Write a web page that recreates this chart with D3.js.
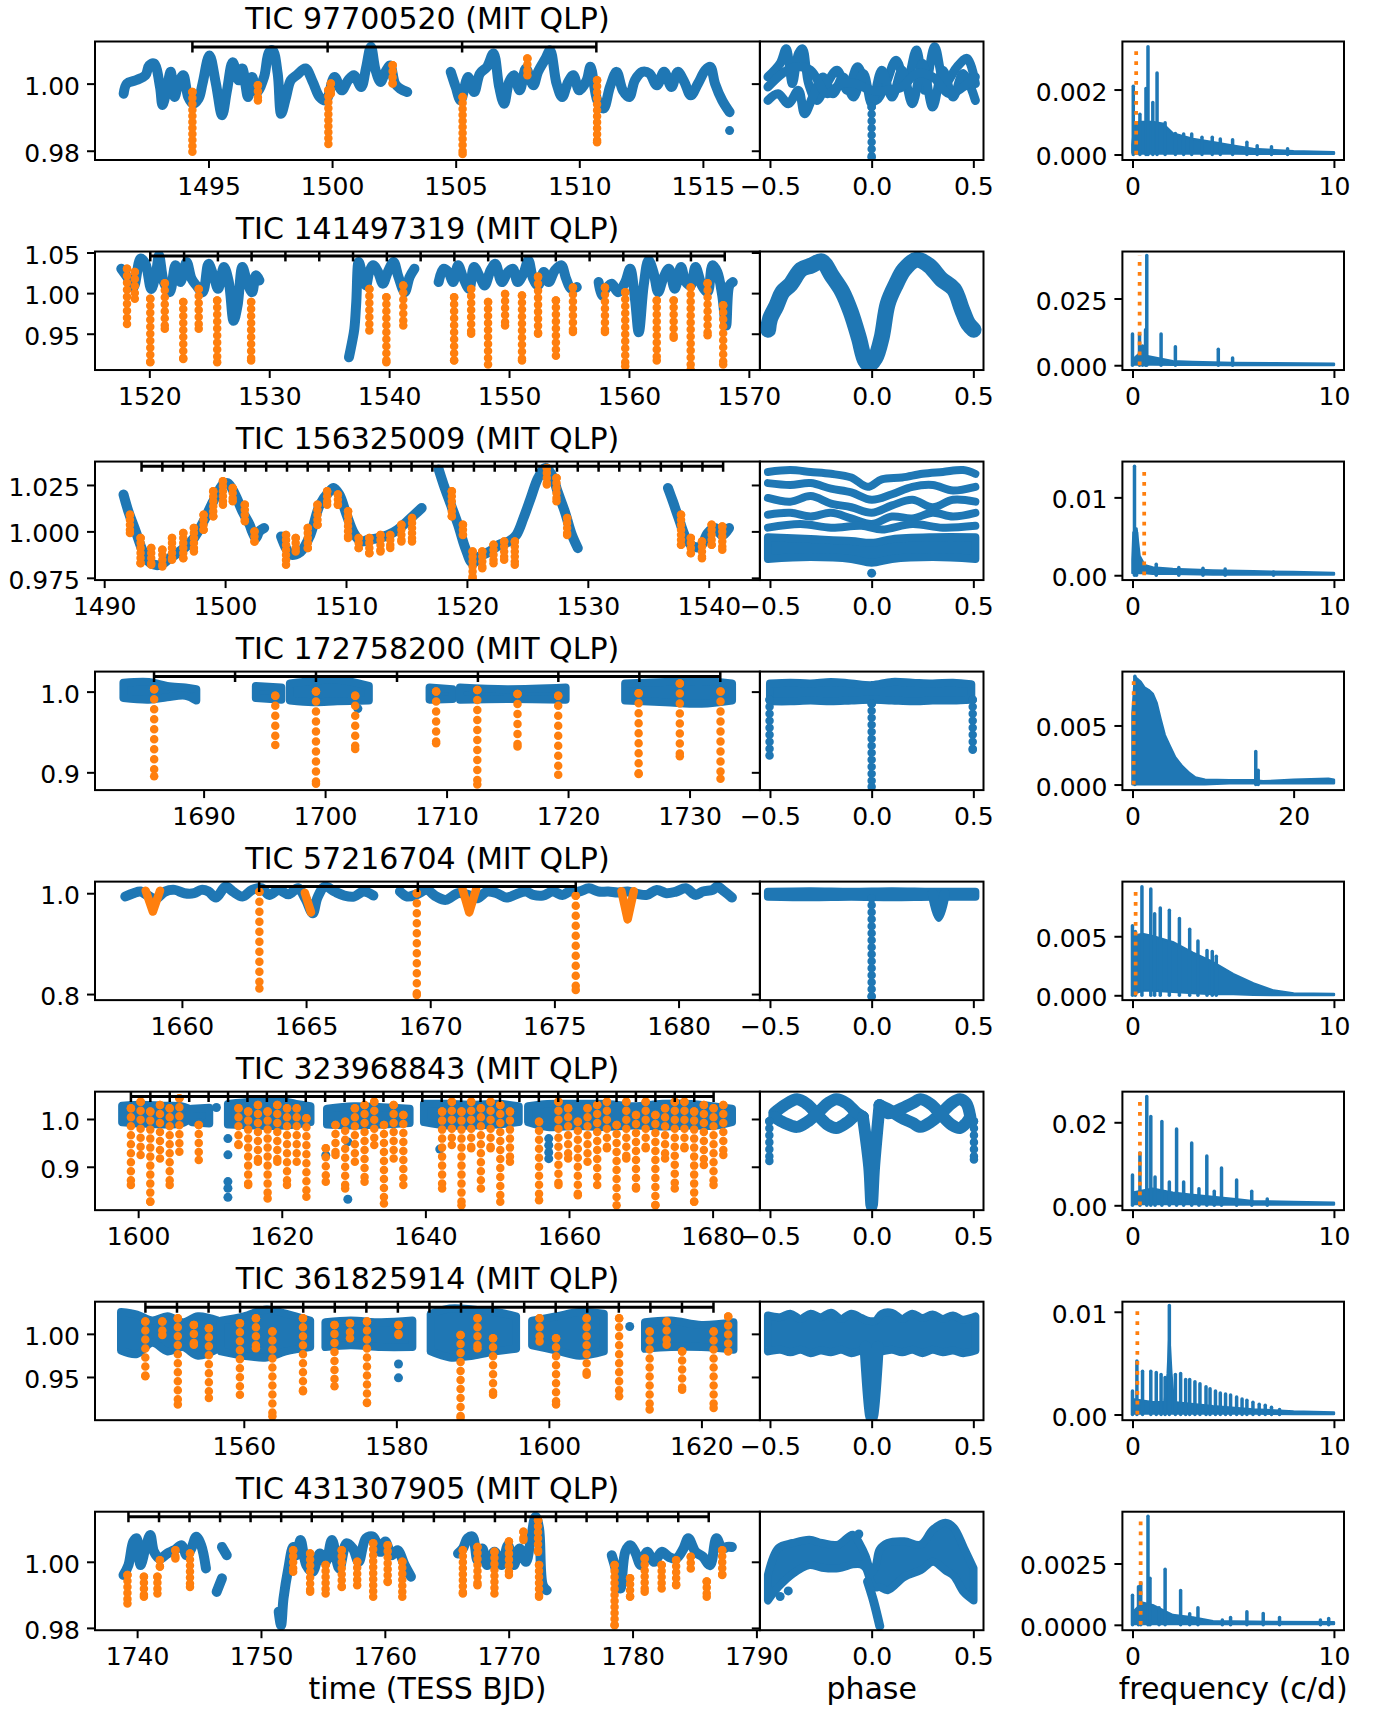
<!DOCTYPE html>
<html>
<head>
<meta charset="utf-8">
<script src="https://cdn.jsdelivr.net/npm/d3@7"></script>
<style>
  body { margin: 0; background: #fff; }
  svg text { font-family: "DejaVu Sans", sans-serif; fill: #000; }
</style>
</head>
<body>
<svg id="fig" width="1381" height="1713"></svg>
<script>
// ---------- per-target settings ----------
const titles = ["TIC 97700520 (MIT QLP)", "TIC 141497319 (MIT QLP)", "TIC 156325009 (MIT QLP)",
  "TIC 172758200 (MIT QLP)", "TIC 57216704 (MIT QLP)", "TIC 323968843 (MIT QLP)",
  "TIC 361825914 (MIT QLP)", "TIC 431307905 (MIT QLP)"];
const periods = [5.447, 2.818, 1.718, 6.66, 6.375, 2.705, 4.138, 2.466];
const timeDomains = [[1490.41, 1517.31], [1515.47, 1570.93], [1489.24, 1544.24], [1681.06, 1735.8],
  [1656.5, 1683.28], [1593.99, 1686.6], [1540.49, 1627.68], [1736.6, 1790.29]];
const fluxDomains = [[0.97724, 1.01255], [0.9053, 1.0512], [0.9738, 1.0376], [0.878, 1.0248],
  [0.788, 1.023], [0.8092, 1.0572], [0.8999, 1.0373], [0.9793, 1.01515]];
const timeTicks = [[1495, 1500, 1505, 1510, 1515], [1520, 1530, 1540, 1550, 1560, 1570],
  [1490, 1500, 1510, 1520, 1530, 1540], [1690, 1700, 1710, 1720, 1730], [1660, 1665, 1670, 1675, 1680],
  [1600, 1620, 1640, 1660, 1680], [1560, 1580, 1600, 1620], [1740, 1750, 1760, 1770, 1780, 1790]];
const fluxTicks = [[0.98, 1.00], [0.95, 1.00, 1.05], [0.975, 1.000, 1.025], [0.9, 1.0], [0.8, 1.0],
  [0.9, 1.0], [0.95, 1.00], [0.98, 1.00]];
const fluxFormats = [".2f", ".2f", ".3f", ".1f", ".1f", ".1f", ".2f", ".2f"];
const markerLevels = [1.0109, 1.0458, 1.0351, 1.0186, 1.0132, 1.0468, 1.0308, 1.0136];
const phaseDomain = [-0.55, 0.55];
const phaseTicks = [[-0.5, 0.0, 0.5], [0.0, 0.5], [-0.5, 0.0, 0.5], [-0.5, 0.0, 0.5], [-0.5, 0.0, 0.5],
  [-0.5, 0.0, 0.5], [-0.5, 0.0, 0.5], [0.0, 0.5]];
const freqDomains = [[-0.5, 10.5], [-0.5, 10.5], [-0.5, 10.5], [-1.25, 26.25], [-0.5, 10.5],
  [-0.5, 10.5], [-0.5, 10.5], [-0.5, 10.5]];
const freqTicks = [[0, 10], [0, 10], [0, 10], [0, 20], [0, 10], [0, 10], [0, 10], [0, 10]];
const powerDomains = [[-0.00017, 0.00348], [-0.0018, 0.0426], [-0.00062, 0.0146], [-0.00047, 0.00956],
  [-0.00041, 0.00963], [-0.00117, 0.02738], [-0.00055, 0.01098], [-0.00022, 0.00461]];
const powerTicks = [[0, 0.002], [0, 0.025], [0, 0.01], [0, 0.005], [0, 0.005], [0, 0.02], [0, 0.01], [0, 0.0025]];
const powerFormats = [".3f", ".3f", ".2f", ".3f", ".3f", ".2f", ".2f", ".4f"];

// ---------- eclipse ephemeris marks (times) ----------
const lc1Markers = [1494.35, 1499.82, 1505.26, 1510.69];
const lc2Markers = [1520.08, 1522.90, 1525.72, 1528.53, 1531.35, 1534.17, 1536.99, 1539.81, 1542.63,
  1545.44, 1548.26, 1551.08, 1553.90, 1556.72, 1559.53, 1562.35, 1565.17, 1567.99];
const lc3Markers = [1493.09, 1494.81, 1496.53, 1498.24, 1499.96, 1501.68, 1503.40, 1505.12, 1506.83,
  1508.55, 1510.27, 1511.99, 1513.71, 1515.42, 1517.14, 1518.86, 1520.58, 1522.30, 1524.01, 1525.73,
  1527.45, 1529.17, 1530.89, 1532.60, 1534.32, 1536.04, 1537.76, 1539.48, 1541.19];
const lc4Markers = [1685.92, 1692.59, 1699.25, 1705.92, 1712.58, 1719.2, 1725.87, 1732.53];
const lc5Markers = [1663.11, 1669.5, 1675.86];
const lc6Markers = [1598.99, 1601.70, 1604.40, 1607.11, 1609.81, 1612.52, 1615.22, 1617.93, 1620.63,
  1623.34, 1626.04, 1628.75, 1631.45, 1634.16, 1636.86, 1639.57, 1642.27, 1644.98, 1647.68, 1650.39,
  1653.09, 1655.80, 1658.50, 1661.21, 1663.91, 1666.62, 1669.32, 1672.03, 1674.73, 1677.44, 1680.14];
const lc7Markers = [1547.10, 1551.24, 1555.38, 1559.51, 1563.65, 1567.79, 1571.93, 1576.07, 1580.20,
  1584.34, 1588.48, 1592.62, 1596.76, 1600.89, 1605.03, 1609.17, 1613.31, 1617.45, 1621.58];
const lc8Markers = [1739.30, 1741.77, 1744.23, 1746.70, 1749.16, 1751.63, 1754.10, 1756.56, 1759.03,
  1761.49, 1763.96, 1766.43, 1768.89, 1771.36, 1773.82, 1776.29, 1778.76, 1781.22, 1783.69, 1786.15];

// ---------- light curves: traced segments [time, flux] ----------
const lc1Trace = [
  [[1491.57,0.997],[1491.7,1.0],[1492.06,1.001],[1492.45,1.0025],[1492.6,1.0054],[1492.8,1.006],[1493.04,0.999],
   [1493.14,0.9936],[1493.33,0.999],[1493.47,1.0035],[1493.63,0.996],[1493.78,1.0],[1493.98,1.0025],[1494.18,0.996],
   [1494.37,0.994],[1494.6,0.9955],[1494.76,1.0],[1495.04,1.0084],[1495.3,1.0],[1495.55,0.9906],[1495.75,0.998],
   [1495.98,1.0064],[1496.22,1.001],[1496.37,1.0045],[1496.6,0.996],[1496.76,1.002],[1496.96,0.9975],[1497.25,1.002],
   [1497.45,1.0094],[1497.6,1.0099],[1497.8,1.003],[1497.94,0.991],[1498.14,0.996],[1498.33,1.001],[1498.57,1.0025],
   [1498.92,1.0045],[1499.22,1.0005],[1499.5,0.996],[1499.75,0.995],[1500.1,1.002],[1500.39,0.998],[1500.65,1.001],
   [1500.88,1.0025],[1501.18,0.999],[1501.37,1.0045],[1501.57,1.011],[1501.76,1.004],[1501.96,1.0005],[1502.16,1.0035],
   [1502.35,1.0054],[1502.55,1.0],[1502.75,0.9985],[1503.04,0.9975]],
  [[1504.8,1.0035],[1505.0,0.999],[1505.2,0.995],[1505.5,1.002],[1505.75,0.9975],[1505.98,1.003],[1506.27,1.005],
   [1506.53,1.009],[1506.76,0.999],[1506.96,0.994],[1507.16,1.0005],[1507.35,1.0025],[1507.59,0.998],[1507.84,1.0045],
   [1508.14,0.9995],[1508.33,1.0035],[1508.63,1.0074],[1508.82,1.0099],[1509.08,1.0],[1509.31,0.996],[1509.55,1.0005],
   [1509.76,1.0025],[1510.0,0.998],[1510.3,1.001],[1510.45,1.005],[1510.73,0.995],[1510.98,0.9926],[1511.24,0.999],
   [1511.51,1.0035],[1511.76,0.998],[1512.02,0.996],[1512.25,1.001],[1512.55,1.0035],[1512.84,1.003],[1513.14,0.9995],
   [1513.43,1.0035],[1513.73,0.999],[1513.98,1.0035],[1514.25,1.0005],[1514.51,0.9965],[1514.8,1.0],[1515.1,1.004],
   [1515.3,1.005],[1515.49,1.0],[1515.78,0.995],[1516.08,0.9915]]
];
const lc1Dots = [[1516.08, 0.986]];
const lc1Chains = [[1494.35,0.9975,0.9797],[1497.0,0.9995,0.995],[1499.85,0.998,0.982],[1499.95,1.0,0.997],
  [1502.45,1.0055,1.0],[1505.28,0.996,0.979],[1507.9,1.0075,1.0025],[1510.72,1.001,0.9825]];

const lc2Trace = [
  [[1517.66,1.030],[1518.14,1.020],[1518.67,1.007],[1519.27,1.0425],[1519.68,1.036],[1520.16,1.005],[1520.57,1.026],
   [1520.81,1.0467],[1521.21,1.0136],[1521.70,1.0012],[1522.18,1.0343],[1522.59,1.0136],[1523.11,1.0384],[1523.52,1.0178],
   [1523.92,1.0095],[1524.45,1.0012],[1524.93,1.036],[1525.34,1.0219],[1525.74,1.0054],[1526.22,1.0322],[1526.63,1.0136],
   [1527.03,0.966],[1527.36,0.9847],[1527.76,1.0322],[1528.16,1.0136],[1528.57,1.0012],[1528.89,1.0219],[1529.18,1.0157]],
  [[1536.65,0.921],[1536.90,0.939],[1537.10,0.956],[1537.26,0.989],[1537.46,1.0384],[1537.78,1.0219],[1538.07,1.0095],
   [1538.35,1.026],[1538.67,1.0343],[1539.08,1.026],[1539.48,1.0116],[1539.89,1.026],[1540.37,1.0384],[1540.78,1.0198],
   [1541.30,1.0012],[1541.71,1.0198],[1542.11,1.030]],
  [[1544.13,1.0136],[1544.53,1.030],[1544.94,1.026],[1545.34,1.0136],[1545.75,1.0343],[1546.15,1.0198],[1546.68,1.0054],
   [1547.08,1.0322],[1547.57,1.0198],[1547.97,1.0095],[1548.46,1.0281],[1548.86,1.036],[1549.39,1.0136],[1549.91,1.026],
   [1550.32,1.030],[1550.72,1.0136],[1551.20,1.024],[1551.61,1.0405],[1552.01,1.0178],[1552.42,1.0095],[1552.90,1.026],
   [1553.31,1.0136],[1553.83,1.0281],[1554.36,1.0343],[1554.76,1.0178],[1555.17,1.0054],[1555.65,1.0074]],
  [[1557.47,1.0136],[1557.75,0.9971],[1558.08,1.0054],[1558.56,1.0116],[1559.09,1.0012],[1559.69,1.0136],[1560.10,1.030],
   [1560.50,0.993],[1560.82,0.9517],[1561.23,1.0095],[1561.63,1.0405],[1562.04,1.026],[1562.44,1.0012],[1562.85,1.0178],
   [1563.33,1.030],[1563.82,1.0054],[1564.34,1.0322],[1564.74,1.0136],[1565.15,1.0095],[1565.55,1.0322],[1566.08,1.0095],
   [1566.56,1.0012],[1566.97,1.0343],[1567.37,1.026],[1567.78,0.9971],[1568.10,0.960],[1568.38,1.0095],[1568.66,1.0136]]
];
const lc2Chains = [[1518.14,1.030,0.962],[1518.79,1.026,0.993],[1520.08,0.993,0.915],[1521.29,1.012,0.956],
  [1522.83,0.989,0.919],[1524.12,1.005,0.956],[1525.66,0.991,0.915],[1528.49,0.989,0.917],[1538.35,1.005,0.954],
  [1539.77,0.995,0.915],[1541.18,1.0095,0.960],[1545.42,0.995,0.917],[1546.84,1.005,0.950],[1548.25,0.989,0.912],
  [1549.67,0.999,0.960],[1551.08,0.997,0.917],[1552.42,1.020,0.950],[1553.91,0.991,0.923],[1555.33,1.007,0.952],
  [1558.0,1.007,0.952],[1559.69,1.001,0.910],[1562.32,0.991,0.917],[1563.73,0.991,0.945],[1565.15,1.007,0.906],
  [1566.56,1.012,0.948],[1567.86,0.985,0.912]];

const lc3Trace = [
  [[1491.6,1.0198],[1492.0,1.0108],[1492.61,1.0],[1493.21,0.9892],[1493.81,0.983],[1494.61,0.982],[1495.41,0.9856],
   [1496.42,0.990],[1497.42,0.9964],[1498.22,1.0054],[1499.02,1.0162],[1499.82,1.0252],[1500.22,1.026],[1500.83,1.0198],
   [1501.43,1.0108],[1502.03,1.0036],[1502.23,1.0],[1502.55,0.9964],[1502.83,1.0],[1503.23,1.0018]],
  [[1504.63,0.9973],[1505.04,0.991],[1505.44,0.9874],[1506.24,0.989],[1507.04,0.998],[1507.84,1.0144],[1508.64,1.0216],
   [1508.97,1.0234],[1509.45,1.0198],[1510.05,1.009],[1510.65,0.9991],[1511.25,0.9946],[1511.85,0.9955],[1512.65,0.9964],
   [1513.46,0.998],[1514.26,1.0009],[1515.06,1.0054],[1515.66,1.009],[1516.26,1.0126]],
  [[1517.67,1.0333],[1518.07,1.0252],[1518.67,1.0144],[1519.27,1.0036],[1519.87,0.991],[1520.47,0.9829],[1521.07,0.9865],
   [1521.88,0.9892],[1522.68,0.9928],[1523.48,0.9946],[1524.08,0.998],[1524.68,1.0072],[1525.28,1.018],[1525.89,1.0288],
   [1526.49,1.0342],[1527.01,1.0306],[1527.49,1.0216],[1528.09,1.0108],[1528.69,0.998],[1529.17,0.991]],
  [[1536.63,1.0234],[1537.03,1.0162],[1537.51,1.0072],[1538.12,0.9964],[1538.72,0.9919],[1539.32,0.9919],[1539.92,0.9991],
   [1540.52,1.0018],[1541.12,0.998],[1541.68,1.0018]]
];
const lc3Chains = [[1492.13,1.009,0.9991],[1493.01,0.9964,0.9829],[1493.89,0.991,0.982],[1494.81,0.9901,0.9811],
  [1495.61,0.9964,0.9847],[1496.54,0.9991,0.9856],[1497.42,1.0018,0.9892],[1498.22,1.009,1.0009],[1499.02,1.0216,1.0081],
  [1499.82,1.027,1.0144],[1500.63,1.0234,1.0162],[1501.63,1.0144,1.0054],[1502.43,1.0,0.9946],[1505.04,0.998,0.982],
  [1505.84,0.9964,0.9892],[1506.84,1.0018,0.991],[1507.64,1.0144,1.0036],[1508.44,1.0216,1.0144],[1509.33,1.0198,1.0144],
  [1510.17,1.0108,0.9964],[1511.05,0.9964,0.991],[1511.93,0.9964,0.9883],[1512.85,0.998,0.9892],[1513.66,0.998,0.991],
  [1514.58,1.0036,0.9946],[1515.46,1.0072,0.9946],[1518.75,1.0216,1.0081],[1519.67,1.0036,0.998],[1520.47,0.9892,0.9748],
  [1521.27,0.9892,0.9802],[1522.2,0.9928,0.9829],[1523.08,0.9946,0.9847],[1523.96,0.9946,0.982],[1526.61,1.0342,1.0252],
  [1527.41,1.0288,1.0162],[1528.29,1.0072,0.998],[1537.71,1.009,0.9928],[1538.52,0.9964,0.9883],[1539.44,0.9946,0.9856],
  [1540.24,1.0036,0.9928],[1541.12,1.0027,0.9901]];

// dense stretches: [time, lower flux, upper flux]
const lc4Bands = [
  [[1683.4,0.987,1.016],[1685.5,0.985,1.017],[1687,0.988,1.012],[1688.5,0.99,1.01],[1689.4,0.984,1.008]],
  [[1694.3,0.987,1.012],[1696.4,0.985,1.01]],
  [[1697.1,0.984,1.015],[1699,0.982,1.018],[1701,0.983,1.02],[1703.6,0.984,1.012]],
  [[1708.6,0.985,1.01],[1710.5,0.986,1.008]],
  [[1711.1,0.985,1.01],[1715,0.986,1.008],[1719.8,0.985,1.01]],
  [[1724.7,0.984,1.015],[1728,0.982,1.017],[1731,0.98,1.018],[1733.5,0.984,1.015]]
];
const lc4Dots = [[1702.7, 0.979]];
const lc4Chains = [[1685.93,1.003,0.895],[1695.9,0.995,0.934],[1699.25,1.0,0.886],[1702.48,0.995,0.929],
  [1709.14,1.0,0.936],[1712.53,1.002,0.885],[1715.84,0.997,0.932],[1719.19,0.995,0.897],[1725.81,0.998,0.898],
  [1729.2,1.01,0.92],[1732.55,1.0,0.892]];

const lc5Trace = [
  [[1657.72,0.9934],[1658.05,1.0],[1658.34,1.0033],[1658.63,0.9954],[1658.93,0.9887],[1659.32,1.0033],[1659.71,1.0066],
   [1660.10,1.0],[1660.49,1.0],[1660.78,1.0066],[1661.07,1.0033],[1661.37,0.9914],[1661.76,1.0132],[1662.05,1.0033],
   [1662.44,0.9934],[1662.83,1.0066],[1663.22,1.0099],[1663.51,0.9967],[1663.90,1.0066],[1664.29,0.998],[1664.68,1.0099],
   [1664.98,0.9887],[1665.27,0.9603],[1665.46,0.9914],[1665.76,1.0132],[1666.15,1.0033],[1666.54,0.9954],[1666.93,0.9934],
   [1667.32,1.0033],[1667.71,0.9954]],
  [[1668.78,1.0033],[1669.07,0.9934],[1669.46,0.998],[1669.85,1.0066],[1670.24,0.9934],[1670.63,0.9868],[1671.12,1.0],
   [1671.51,0.9967],[1671.9,0.9901],[1672.29,1.0033],[1672.68,1.0],[1673.07,0.9914],[1673.46,0.998],[1673.85,1.0033],
   [1674.15,0.9967],[1674.54,0.9954],[1674.93,1.0033],[1675.32,0.9967],[1675.61,1.0033],[1676.0,1.0033],[1676.39,1.0099],
   [1676.78,1.0033],[1677.17,1.0033],[1677.56,1.0013],[1677.95,1.0033],[1678.34,0.9987],[1678.73,0.9967],[1679.12,1.0066],
   [1679.51,1.0],[1679.9,1.0033],[1680.29,1.0099],[1680.68,0.9967],[1680.98,1.0033],[1681.37,1.0066],[1681.56,1.0132],
   [1681.85,1.0033],[1682.15,0.9914]]
];
const lc5Chains = [[1663.12,1.003,0.811],[1669.46,1.0,0.798],[1675.86,0.995,0.808]];
const lc5Streaks = [
  [[1658.54,1.005],[1658.83,0.9636],[1659.12,1.005]],
  [[1664.95,1.001],[1665.2,0.962]],
  [[1671.3,1.008],[1671.57,0.962],[1671.85,1.008]],
  [[1677.7,1.004],[1677.95,0.948],[1678.2,1.004]]
];

const lc6Bands = [
  [[1597.77,0.985,1.036],[1600.5,0.982,1.038],[1603.5,0.98,1.036],[1606.0,0.982,1.035],[1607.1,0.99,1.03]],
  [[1607.5,0.985,1.03],[1609.9,0.982,1.032]],
  [[1612.5,0.98,1.04],[1616,0.978,1.045],[1619,0.977,1.048],[1622,0.98,1.04],[1624.0,0.985,1.035]],
  [[1626.3,0.98,1.03],[1630,0.978,1.035],[1634,0.98,1.033],[1637.8,0.983,1.03]],
  [[1639.8,0.985,1.04],[1643,0.978,1.04],[1647,0.978,1.038],[1650,0.98,1.04],[1653.0,0.985,1.035]],
  [[1654.3,0.985,1.035],[1657,0.975,1.04],[1661,0.977,1.04],[1665,0.975,1.04],[1669,0.978,1.035],[1673,0.976,1.04],
   [1677,0.978,1.04],[1680,0.977,1.035],[1682.7,0.985,1.03]]
];
const lc6Dots = [[1610.9,1.024],[1612.5,0.959],[1612.5,0.925],[1612.5,0.869],[1612.5,0.855],[1612.5,0.836],
  [1626.13,0.924],[1629.2,0.952],[1629.2,0.832],[1642.0,0.937],[1657.18,0.959],[1657.18,0.945],[1657.18,0.93],
  [1657.18,0.917]];
const lc6Chains = [[1598.99,1.0224,0.8616],[1600.34,1.0363,0.9245],[1601.69,1.0154,0.8266],[1603.04,1.0294,0.9175],
  [1604.39,1.0224,0.8616],[1605.74,1.0433,0.9315],[1608.44,0.9874,0.914],[1613.97,1.0224,0.9455],[1615.32,1.0154,0.8616],
  [1616.68,1.0294,0.9105],[1618.03,1.0154,0.8336],[1619.38,1.0294,0.9105],[1620.73,1.0224,0.8616],[1622.08,1.0224,0.9105],
  [1623.43,1.0014,0.8371],[1626.13,0.9385,0.8686],[1627.48,0.9874,0.9245],[1628.83,0.9944,0.8546],[1630.18,1.0224,0.9105],
  [1631.53,1.0294,0.8686],[1632.88,1.0363,0.9455],[1634.23,0.9874,0.8231],[1635.58,1.0294,0.9175],[1636.93,1.0084,0.8616],
  [1642.33,1.0154,0.8546],[1643.68,1.0363,0.9455],[1645.03,1.0154,0.8197],[1646.38,1.0363,0.9385],[1647.73,1.0224,0.8546],
  [1649.08,1.0363,0.9385],[1650.43,1.0294,0.8266],[1651.78,1.0154,0.9105],[1655.83,0.9944,0.8301],[1658.53,1.0363,0.8616],
  [1659.88,1.0224,0.9175],[1661.23,0.9944,0.8406],[1662.58,1.0224,0.9105],[1663.93,1.0294,0.8616],[1665.28,1.0363,0.9385],
  [1666.63,0.9874,0.8197],[1667.98,1.0363,0.9175],[1669.33,1.0084,0.8546],[1670.68,1.0363,0.9385],[1672.03,1.0084,0.8197],
  [1673.38,1.0224,0.9175],[1674.73,1.0363,0.8546],[1676.08,1.0363,0.9385],[1677.43,1.0154,0.8266],[1678.78,1.0294,0.9035],
  [1680.13,1.0224,0.8616],[1681.49,1.0294,0.9245]];

const lc7Bands = [
  [[1543.9,0.976,1.03],[1546,0.972,1.027],[1548,0.985,1.02],[1550,0.975,1.025],[1552,0.98,1.018],[1554,0.97,1.025],
   [1556.6,0.978,1.02]],
  [[1557.0,0.975,1.02],[1560,0.97,1.025],[1563,0.968,1.033],[1565.5,0.975,1.028],[1568.7,0.98,1.02]],
  [[1570.7,0.98,1.018],[1574,0.982,1.02],[1578,0.98,1.018],[1582.1,0.98,1.02]],
  [[1584.5,0.975,1.028],[1587,0.968,1.034],[1590,0.97,1.033],[1593,0.975,1.03],[1595.7,0.978,1.025]],
  [[1597.8,0.982,1.02],[1601,0.976,1.025],[1604,0.97,1.03],[1607.2,0.975,1.028]],
  [[1612.6,0.978,1.018],[1616,0.98,1.02],[1620,0.98,1.015],[1624.2,0.977,1.018]]
];
const lc7Dots = [[1610.6,1.0085],[1580.28,0.965],[1580.28,0.949]];
const lc7Chains = [[1547.09,1.0142,0.9507],[1549.32,1.0142,0.9988],[1551.35,1.0181,0.918],[1553.45,1.0104,0.9873],
  [1555.42,1.0065,0.9257],[1559.49,1.0123,0.9295],[1561.59,1.0181,0.9834],[1563.75,1.0027,0.9045],[1567.76,1.0181,0.9334],
  [1571.89,1.0104,0.9392],[1573.92,1.0123,0.995],[1576.15,1.0142,0.9199],[1580.28,1.0104,0.9988],[1588.42,0.9988,0.9026],
  [1590.64,1.0181,0.9834],[1592.68,0.995,0.9295],[1598.78,1.0181,0.9911],[1600.94,0.995,0.918],[1604.95,1.0181,0.9526],
  [1609.21,1.0181,0.9276],[1613.21,1.0027,0.9122],[1615.44,1.0142,0.9873],[1617.47,0.9796,0.9353],[1621.6,1.0027,0.9141],
  [1623.51,1.02,0.9796]];

const lc8Trace = [
  [[1738.9,0.996],[1739.3,0.999],[1739.69,1.0061],[1739.96,1.0071],[1740.27,0.999],[1740.67,1.004],[1741.06,1.0081],
   [1741.37,1.003],[1741.84,1.001],[1742.43,1.0025],[1743.01,1.0035],[1743.6,1.005],[1743.99,1.002],[1744.38,1.004],
   [1744.77,1.0076],[1745.17,1.005],[1745.56,0.998]],
  [[1746.42,0.9909],[1746.85,0.995]],
  [[1746.85,1.0045],[1747.24,1.002]],
  [[1751.43,0.9849],[1751.62,0.9808],[1751.82,0.9889],[1752.21,0.998],[1752.6,1.0045],[1752.88,1.002],[1753.19,1.0066],
   [1753.66,0.999],[1754.17,0.997],[1754.76,1.0025],[1755.23,1.0],[1755.73,1.0066],[1756.32,0.998],[1756.91,1.0056],
   [1757.42,1.004],[1757.89,1.0],[1758.47,1.0071],[1759.06,1.0076],[1759.65,1.003],[1760.04,1.0061],[1760.55,1.002],
   [1761.02,1.0035],[1761.6,0.999],[1762.11,0.9955]],
  [[1765.91,1.0025],[1766.3,1.004],[1766.69,1.0071],[1767.08,1.0076],[1767.48,1.0005],[1767.87,1.004],[1768.26,0.999],
   [1768.85,1.003],[1769.43,0.999],[1769.94,1.005],[1770.41,0.999],[1770.88,1.004],[1771.39,1.0],[1771.78,1.0066],
   [1772.17,1.0136],[1772.45,1.0101],[1772.76,0.9929],[1773.07,0.9914]],
  [[1778.32,1.002],[1778.63,0.998],[1779.02,0.9919],[1779.41,1.003],[1779.8,1.005],[1780.2,1.003],[1780.67,0.999],
   [1781.17,1.003],[1781.76,1.0],[1782.35,1.003],[1782.94,1.0015],[1783.52,1.001],[1784.11,1.004],[1784.5,1.0071],
   [1785.09,1.003],[1785.68,1.0015],[1786.26,0.999],[1786.77,1.0071],[1787.24,1.004],[1787.63,1.0045],[1788.02,1.0045]]
];
const lc8Chains = [[1739.22,0.996,0.9874],[1740.55,0.9955,0.9894],[1741.64,0.9955,0.9904],[1741.84,1.0005,0.9985],
  [1743.09,1.0035,1.001],[1744.27,1.0025,0.9924],[1752.6,1.0035,0.997],[1753.97,1.0025,0.9909],[1755.22,0.999,0.9904],
  [1756.52,1.0035,0.9924],[1757.77,1.0,0.9929],[1759.06,1.0056,0.9894],[1760.23,1.005,0.9939],[1761.41,1.0,0.9894],
  [1766.3,1.0035,0.9904],[1767.48,1.0045,0.9929],[1768.85,1.003,0.9904],[1770.02,1.0061,0.996],[1771.19,1.0091,1.0066],
  [1772.37,1.0126,1.003],[1772.45,0.999,0.9894],[1778.55,0.999,0.9808],[1779.8,0.995,0.9894],[1780.98,1.001,0.9909],
  [1782.35,0.999,0.9919],[1783.52,1.0005,0.9929],[1784.7,1.0015,0.998],[1785.99,0.994,0.9894],[1787.24,1.0035,0.996]];

// ---------- phase-folded curves ----------
const ph1Strands = [
  [[-0.51,1.002],[-0.45,1.006],[-0.42,1.0104],[-0.39,1.0],[-0.36,1.009],[-0.34,1.0104],[-0.31,1.0],[-0.27,0.995],
   [-0.22,1.0],[-0.17,1.004],[-0.12,0.998],[-0.07,1.005],[-0.03,1.0],[0.02,0.995],[0.07,1.0],[0.12,1.007],[0.17,1.0],
   [0.22,1.01],[0.26,0.998],[0.31,1.011],[0.36,1.0],[0.42,1.005],[0.47,1.0075],[0.51,1.0]],
  [[-0.51,0.995],[-0.46,0.997],[-0.41,0.994],[-0.36,0.998],[-0.33,0.991],[-0.29,0.996],[-0.24,1.002],[-0.19,0.997],
   [-0.14,1.002],[-0.09,0.996],[-0.04,1.003],[0.0,0.994],[0.05,1.004],[0.1,0.996],[0.15,1.004],[0.2,0.994],[0.25,1.006],
   [0.3,0.993],[0.35,1.004],[0.4,0.996],[0.45,1.003],[0.51,0.995]],
  [[-0.51,0.999],[-0.44,1.003],[-0.38,1.005],[-0.3,1.004],[-0.22,0.997],[-0.15,1.0],[-0.08,1.0],[0.0,0.998],[0.08,0.998],
   [0.15,0.999],[0.22,1.003],[0.3,1.002],[0.38,0.997],[0.45,0.999],[0.51,1.002]]
];
const ph1Chains = [[0.0, 0.993, 0.978]];

const ph2Strands = [
  [[-0.509,0.955],[-0.5,0.968],[-0.469,0.984],[-0.438,1.0015],[-0.398,1.011],[-0.347,1.029],[-0.296,1.034],[-0.245,1.039],
   [-0.195,1.021],[-0.144,1.0015],[-0.103,0.977],[-0.063,0.945],[-0.032,0.917],[-0.012,0.912],[0.018,0.92],[0.049,0.945],
   [0.079,0.987],[0.12,1.011],[0.16,1.029],[0.221,1.041],[0.282,1.034],[0.343,1.017],[0.404,1.005],[0.444,0.98],
   [0.475,0.962],[0.501,0.955]]
];

const ph3Bands = [[[-0.51,0.983,0.999],[-0.3,0.984,0.998],[-0.1,0.983,0.997],[0.0,0.981,0.996],[0.1,0.983,0.998],
  [0.3,0.984,0.999],[0.51,0.983,0.999]]];
const ph3Strands = [
  [[-0.51,1.032],[-0.4,1.033],[-0.3,1.032],[-0.2,1.031],[-0.1,1.029],[-0.02,1.024],[0.05,1.028],[0.15,1.029],[0.25,1.031],
   [0.35,1.032],[0.45,1.033],[0.51,1.031]],
  [[-0.51,1.026],[-0.4,1.025],[-0.3,1.026],[-0.2,1.023],[-0.1,1.021],[0.0,1.017],[0.1,1.02],[0.2,1.024],[0.3,1.025],
   [0.4,1.022],[0.51,1.024]],
  [[-0.51,1.018],[-0.4,1.016],[-0.3,1.019],[-0.2,1.015],[-0.1,1.013],[0.0,1.01],[0.1,1.014],[0.2,1.017],[0.3,1.013],
   [0.4,1.017],[0.51,1.016]],
  [[-0.51,1.009],[-0.4,1.01],[-0.3,1.008],[-0.2,1.01],[-0.1,1.007],[0.0,1.004],[0.1,1.008],[0.2,1.007],[0.3,1.01],
   [0.4,1.008],[0.51,1.01]],
  [[-0.51,1.002],[-0.35,1.004],[-0.2,1.002],[-0.05,1.003],[0.05,1.001],[0.2,1.004],[0.35,1.002],[0.51,1.003]]
];
const ph3Dots = [[0.0, 0.9775]];

const ph4Bands = [[[-0.5,0.983,1.015],[-0.4,0.983,1.016],[-0.3,0.984,1.015],[-0.2,0.983,1.017],[-0.1,0.984,1.015],
  [0.0,0.985,1.013],[0.1,0.984,1.017],[0.2,0.983,1.016],[0.3,0.984,1.015],[0.4,0.984,1.016],[0.49,0.985,1.014]]];
const ph4Chains = [[-0.502,0.99,0.921],[0.497,0.99,0.928],[0.0,0.985,0.882]];

const ph5Bands = [[[-0.51,0.985,1.011],[-0.3,0.984,1.012],[-0.1,0.985,1.011],[0.1,0.984,1.012],[0.3,0.985,1.011],
  [0.51,0.985,1.011]]];
const ph5Chains = [[0.0, 0.99, 0.795]];
const ph5Strands = [[[0.3,1.0],[0.33,0.953],[0.36,1.0]]];

const ph6Strands = [
  [[-0.479,1.0124],[-0.428,1.029],[-0.367,1.0413],[-0.316,1.0306],[-0.266,1.0083],[-0.215,0.9876],[-0.174,0.981],
   [-0.124,0.9917],[-0.073,1.0083],[-0.043,1.0041]],
  [[-0.479,1.0041],[-0.428,0.9917],[-0.367,0.9835],[-0.316,0.9942],[-0.266,1.0124],[-0.215,1.033],[-0.174,1.0413],
   [-0.124,1.033],[-0.073,1.0124],[-0.043,1.0041]],
  [[0.039,1.0289],[0.079,1.0207],[0.14,1.0041],[0.201,0.9917],[0.241,0.9835],[0.292,0.9942],[0.343,1.0124],[0.394,1.033],
   [0.434,1.0413],[0.465,1.033],[0.485,1.0041]],
  [[0.039,1.0289],[0.079,1.0124],[0.14,1.0207],[0.201,1.033],[0.241,1.0413],[0.292,1.0306],[0.343,1.0083],[0.394,0.9876],
   [0.434,0.981],[0.465,0.9917],[0.485,1.0041]],
  [[-0.043,1.0041],[-0.012,0.9],[0.0,0.818],[0.012,0.9],[0.039,1.0289]]
];
const ph6Chains = [[-0.503,0.995,0.912],[0.503,0.995,0.915]];

const ph7Bands = [[[-0.51,0.975,1.026],[-0.45,0.977,1.024],[-0.4,0.974,1.028],[-0.35,0.977,1.022],[-0.3,0.973,1.028],
  [-0.25,0.976,1.024],[-0.2,0.974,1.029],[-0.15,0.977,1.022],[-0.1,0.973,1.028],[-0.05,0.976,1.023],[-0.02,0.975,1.02],
  [0.02,0.975,1.02],[0.05,0.975,1.028],[0.1,0.977,1.029],[0.15,0.974,1.022],[0.2,0.977,1.028],[0.25,0.973,1.023],
  [0.3,0.977,1.027],[0.35,0.974,1.022],[0.4,0.976,1.026],[0.45,0.973,1.021],[0.51,0.976,1.025]]];
const ph7Strands = [[[-0.03,0.985],[0.0,0.903],[0.03,0.985]]];

const ph8Bands = [[[-0.51,0.9871,0.9973],[-0.458,0.9912,1.0054],[-0.387,0.9952,1.0069],[-0.306,0.9978,1.0079],
  [-0.245,0.997,1.0069],[-0.164,0.9968,1.0064],[-0.093,0.998,1.0094],[-0.053,0.998,1.006],[-0.03,0.997,1.003],
  [0.0,0.9922,0.998],[0.02,0.991,1.0],[0.039,0.9912,1.0049],[0.079,0.9902,1.0069],[0.16,0.9942,1.0074],[0.241,0.9962,1.0064],
  [0.302,0.9988,1.011],[0.363,0.9962,1.013],[0.404,0.9945,1.0115],[0.454,0.9895,1.0054],[0.501,0.9871,0.9993]]];
const ph8Strands = [[[-0.02,0.994],[0.01,0.988],[0.04,0.9805]]];
const ph8Dots = [[-0.41,0.9912],[-0.45,0.9895],[-0.063,1.0084]];

// ---------- periodograms: noise floor [freq, low, high] and peaks [freq, power] ----------
const pg1Band = [[0,0.00005,0.0003],[0.1,0.00003,0.0009],[0.3,0.00003,0.001],[1,0.00003,0.001],[1.5,0.00003,0.00095],
  [2,0.00003,0.00065],[3,0.00003,0.00048],[4,0.00003,0.00038],[5,0.00003,0.00027],[6,0.00002,0.00017],[8,0.00002,0.0001],
  [10,0.00002,0.00007]];
const pg1Spikes = [[0.04,0.0021],[0.37,0.00124],[0.67,0.00203],[0.77,0.00332],[1.01,0.0016],[1.22,0.00251],[1.62,0.00098],
  [2.13,0.00065],[2.54,0.00063],[2.94,0.00063],[3.45,0.00053],[3.96,0.00053],[4.36,0.00048],[4.97,0.00045],[5.68,0.00038],
  [6.19,0.00027],[6.9,0.00024],[7.7,0.00018]];
const pg2Band = [[0,0.0003,0.002],[0.3,0.0003,0.004],[1,0.0003,0.003],[2,0.0002,0.0015],[3,0.0002,0.0012],
  [5,0.0001,0.0008],[7,0.0001,0.0007],[10,0.0001,0.0006]];
const pg2Spikes = [[0.0,0.0117],[0.35,0.0117],[0.5,0.0072],[0.65,0.0133],[0.71,0.0411],[1.42,0.0117],[2.13,0.0069],
  [4.26,0.006],[4.97,0.0027]];
const pg3Band = [[0,0.0003,0.002],[0.05,0.0003,0.0055],[0.2,0.0003,0.006],[0.35,0.0003,0.0025],[0.6,0.0003,0.0013],
  [1,0.0002,0.001],[2,0.0002,0.0008],[4,0.0001,0.0006],[6,0.0001,0.0005],[8,0.0001,0.0004],[10,0.0001,0.0003]];
const pg3Spikes = [[0.1,0.014],[0.2,0.0055],[1.18,0.0014],[2.3,0.001],[3.5,0.0009],[4.6,0.0008],[7,0.0004]];
const pg4Band = [[0,0.00003,0.006],[0.3,0.00003,0.0091],[1,0.00003,0.0087],[1.5,0.00003,0.0082],[2,0.00003,0.008],
  [2.5,0.00003,0.0077],[3,0.00003,0.0069],[3.5,0.00003,0.0055],[4,0.00003,0.0042],[4.6,0.00003,0.0033],[5.3,0.00003,0.0023],
  [6.1,0.00003,0.0016],[7.1,0.00003,0.00095],[7.8,0.00003,0.0006],[9,0.00003,0.0004],[12,0.0001,0.00037],[15,0.0001,0.00037],
  [16.2,0.0001,0.00027],[20,0.0001,0.0004],[24.3,0.0001,0.0005],[25,0.0001,0.0004]];
const pg4Spikes = [[0.3,0.00916],[15.3,0.0028],[15.6,0.0012]];
const pg5Band = [[0,0.0001,0.005],[0.5,0.0004,0.0052],[1,0.0004,0.005],[2,0.0003,0.0045],[3,0.0002,0.0036],
  [4,0.0001,0.0028],[5,0.0001,0.0018],[6,0.00005,0.001],[7,0.00003,0.0004],[8,0.00003,0.00015],[10,0.00003,0.0001]];
const pg5Spikes = [[0.0,0.0059],[0.14,0.0054],[0.47,0.0092],[0.91,0.009],[1.1,0.0069],[1.38,0.0074],[1.83,0.0072],
  [2.33,0.0065],[2.84,0.0056],[3.25,0.0046],[3.7,0.0038],[3.96,0.0037],[4.16,0.0033]];
const pg6Band = [[0,0.0003,0.003],[1,0.0003,0.004],[2,0.0003,0.003],[3,0.0003,0.0025],[4,0.0002,0.002],
  [5,0.0002,0.0015],[6,0.0002,0.001],[8,0.0002,0.0008],[10,0.0002,0.0006]];
const pg6Spikes = [[0.0,0.0073],[0.37,0.0126],[0.71,0.0262],[0.91,0.0214],[1.12,0.0068],[1.46,0.0202],[1.83,0.0056],
  [2.19,0.0184],[2.54,0.0056],[2.94,0.015],[3.3,0.004],[3.69,0.0119],[4.06,0.0034],[4.42,0.009],[5.17,0.0061],
  [5.92,0.0034],[6.69,0.0015]];
const pg7Band = [[0,0.0001,0.0015],[1,0.0001,0.0012],[1.6,0.0001,0.0012],[1.75,0.0001,0.004],[1.83,0.0001,0.0075],
  [1.93,0.0001,0.004],[2.05,0.0001,0.0012],[4,0.0001,0.0008],[6,0.0001,0.0005],[8,0.00005,0.0003],[10,0.00005,0.0002]];
const pg7Spikes = [[0.0,0.0023],[0.22,0.0052],[0.5,0.0042],[0.91,0.0042],[1.18,0.0041],[1.42,0.0039],[1.62,0.0036],
  [1.83,0.0106],[2.13,0.0039],[2.39,0.004],[2.64,0.0034],[2.84,0.0034],[3.1,0.0032],[3.35,0.003],[3.65,0.0027],
  [3.85,0.0025],[4.12,0.0023],[4.36,0.0021],[4.62,0.002],[4.87,0.0019],[5.17,0.0017],[5.44,0.0015],[5.68,0.0014],
  [5.98,0.0012],[6.29,0.001],[6.59,0.0009],[6.9,0.0007],[7.3,0.0005]];
const pg8Band = [[0,0.00003,0.0005],[0.5,0.00003,0.0009],[1,0.00003,0.0008],[1.5,0.00003,0.0006],[2,0.00003,0.0004],
  [3,0.00003,0.0003],[4,0.00003,0.00015],[6,0.00003,0.00012],[10,0.00003,0.0001]];
const pg8Spikes = [[0.0,0.0012],[0.3,0.00155],[0.41,0.0017],[0.77,0.00443],[0.87,0.0019],[1.32,0.0007],[1.62,0.00226],
  [2.39,0.0014],[2.84,0.00045],[3.25,0.0007],[4.46,0.0002],[4.87,0.0003],[5.68,0.00053],[6.49,0.00046],[7.3,0.0003],
  [9.33,0.0002],[9.74,0.00026]];

// ---------- assemble the eight rows ----------
const lcTraces = [lc1Trace, lc2Trace, lc3Trace, [], lc5Trace, [], [], lc8Trace];
const lcBands = [[], [], [], lc4Bands, [], lc6Bands, lc7Bands, []];
const lcDots = [lc1Dots, [], [], lc4Dots, [], lc6Dots, lc7Dots, []];
const lcChains = [lc1Chains, lc2Chains, lc3Chains, lc4Chains, lc5Chains, lc6Chains, lc7Chains, lc8Chains];
const lcStreaks = [[], [], [], [], lc5Streaks, [], [], []];
const lcMarkers = [lc1Markers, lc2Markers, lc3Markers, lc4Markers, lc5Markers, lc6Markers, lc7Markers, lc8Markers];
const phStrands = [ph1Strands, ph2Strands, ph3Strands, [], ph5Strands, ph6Strands, ph7Strands, ph8Strands];
const phBands = [[], [], ph3Bands, ph4Bands, ph5Bands, [], ph7Bands, ph8Bands];
const phChains = [ph1Chains, [], [], ph4Chains, ph5Chains, ph6Chains, [], []];
const phDots = [[], [], ph3Dots, [], [], [], [], ph8Dots];
const pgBands = [pg1Band, pg2Band, pg3Band, pg4Band, pg5Band, pg6Band, pg7Band, pg8Band];
const pgSpikes = [pg1Spikes, pg2Spikes, pg3Spikes, pg4Spikes, pg5Spikes, pg6Spikes, pg7Spikes, pg8Spikes];

// ---------- styling ----------
const BLUE = "#1f77b4", ORANGE = "#ff7f0e";
const chainSpacing = [6, 7, 5, 10, 10, 9, 9, 6];
const strandWidths = [9, 16, 8, 10, 10, 12, 12, 9];
const TRACE_W = 10, DOT_R = 4.5, CHAIN_W = 8.5, BAND_EDGE = 8;
const LEFT = [95, 760], MID = [759.8, 983.5], RIGHT = [1122.4, 1344];
const TOP0 = 41.5, ROW_STEP = 210.03, PANEL_H = 118.5;
const TICK = 8, FONT = 25;

const svg = d3.select("#fig");
const defs = svg.append("defs");
let clipCount = 0;

function makePanel(xr, top) {
  const id = "clip" + (clipCount++);
  defs.append("clipPath").attr("id", id).append("rect")
    .attr("x", xr[0]).attr("y", top).attr("width", xr[1] - xr[0]).attr("height", PANEL_H);
  const g = svg.append("g");
  const plot = g.append("g").attr("clip-path", `url(#${id})`);
  return { g, plot };
}

function styleAxis(sel) {
  sel.attr("font-size", null).attr("font-family", null);
  sel.select(".domain").remove();
  sel.selectAll(".tick line").attr("stroke", "#000").attr("stroke-width", 2);
  sel.selectAll(".tick text").attr("font-size", FONT).attr("fill", "#000");
}

function frame(g, xr, top) {
  g.append("rect").attr("x", xr[0]).attr("y", top).attr("width", xr[1] - xr[0]).attr("height", PANEL_H)
    .attr("fill", "none").attr("stroke", "#000").attr("stroke-width", 2);
}

function bottomAxis(g, scale, top, ticks, fmt) {
  const a = g.append("g").attr("transform", `translate(0,${top + PANEL_H})`)
    .call(d3.axisBottom(scale).tickValues(ticks).tickSize(TICK).tickPadding(9).tickFormat(fmt));
  styleAxis(a);
}

function leftAxis(g, scale, x, ticks, fmt) {
  const a = g.append("g").attr("transform", `translate(${x},0)`)
    .call(d3.axisLeft(scale).tickValues(ticks).tickSize(TICK).tickPadding(7).tickFormat(fmt));
  styleAxis(a);
  a.selectAll(".tick text").attr("dy", "0.42em");
}

function drawChains(plot, xs, ys, chains, color, gap) {
  chains.forEach(([t, top, bottom]) => {
    plot.append("line").attr("x1", xs(t)).attr("x2", xs(t)).attr("y1", ys(top)).attr("y2", ys(bottom))
      .attr("stroke", color).attr("stroke-width", CHAIN_W).attr("stroke-linecap", "round")
      .attr("stroke-dasharray", `0 ${gap}`);
    [top, bottom].forEach(f => plot.append("circle").attr("cx", xs(t)).attr("cy", ys(f))
      .attr("r", CHAIN_W / 2).attr("fill", color));
  });
}

function drawLines(plot, xs, ys, lines, color, width, smooth) {
  const line = d3.line().x(d => xs(d[0])).y(d => ys(d[1]));
  if (smooth) line.curve(d3.curveCatmullRom.alpha(0.5));
  lines.forEach(pts => plot.append("path").attr("d", line(pts)).attr("fill", "none")
    .attr("stroke", color).attr("stroke-width", width)
    .attr("stroke-linecap", "round").attr("stroke-linejoin", "round"));
}

// filled stretch whose outer edge sits on the given limits, with rounded corners
function drawBands(plot, xs, ys, bands, color) {
  const h = BAND_EDGE / 2;
  const area = d3.area().curve(d3.curveCatmullRom.alpha(0.5))
    .x(d => xs(d[0])).y0(d => Math.max(ys(d[1]) - h, ys(d[2]) + h)).y1(d => ys(d[2]) + h);
  bands.forEach(pts => plot.append("path").attr("d", area(pts)).attr("fill", color)
    .attr("stroke", color).attr("stroke-width", BAND_EDGE).attr("stroke-linejoin", "round"));
}

function drawDots(plot, xs, ys, dots, color) {
  dots.forEach(([x, y]) => plot.append("circle").attr("cx", xs(x)).attr("cy", ys(y))
    .attr("r", DOT_R).attr("fill", color));
}

for (let i = 0; i < 8; i++) {
  const top = TOP0 + i * ROW_STEP;
  const yFlux = d3.scaleLinear().domain(fluxDomains[i]).range([top + PANEL_H, top]);
  const fluxFmt = d3.format(fluxFormats[i]);

  // --- light curve ---
  const xt = d3.scaleLinear().domain(timeDomains[i]).range(LEFT);
  const L = makePanel(LEFT, top);
  drawBands(L.plot, xt, yFlux, lcBands[i], BLUE);
  drawLines(L.plot, xt, yFlux, lcTraces[i], BLUE, TRACE_W, true);
  drawDots(L.plot, xt, yFlux, lcDots[i], BLUE);
  drawLines(L.plot, xt, yFlux, lcStreaks[i], ORANGE, CHAIN_W, false);
  drawChains(L.plot, xt, yFlux, lcChains[i], ORANGE, chainSpacing[i]);
  // ephemeris bar with a tick at each predicted eclipse
  const marks = lcMarkers[i];
  const yLevel = yFlux(markerLevels[i]);
  L.plot.append("line").attr("x1", xt(marks[0])).attr("x2", xt(marks[marks.length - 1]))
    .attr("y1", yLevel).attr("y2", yLevel).attr("stroke", "#000").attr("stroke-width", 3);
  marks.forEach(t => L.plot.append("line").attr("x1", xt(t)).attr("x2", xt(t))
    .attr("y1", yLevel - 5).attr("y2", yLevel + 5.5).attr("stroke", "#000").attr("stroke-width", 2.5));
  bottomAxis(L.g, xt, top, timeTicks[i], d3.format("d"));
  leftAxis(L.g, yFlux, LEFT[0], fluxTicks[i], fluxFmt);
  frame(L.g, LEFT, top);
  L.g.append("text").attr("x", (LEFT[0] + LEFT[1]) / 2).attr("y", top - 13)
    .attr("text-anchor", "middle").attr("font-size", 30).text(titles[i]);

  // --- phase-folded ---
  const xp = d3.scaleLinear().domain(phaseDomain).range(MID);
  const M = makePanel(MID, top);
  drawBands(M.plot, xp, yFlux, phBands[i], BLUE);
  drawLines(M.plot, xp, yFlux, phStrands[i], BLUE, strandWidths[i], true);
  drawChains(M.plot, xp, yFlux, phChains[i], BLUE, 7);
  drawDots(M.plot, xp, yFlux, phDots[i], BLUE);
  bottomAxis(M.g, xp, top, phaseTicks[i], d3.format(".1f"));
  leftAxis(M.g, yFlux, MID[0], fluxTicks[i], () => "");
  frame(M.g, MID, top);

  // --- periodogram ---
  const xf = d3.scaleLinear().domain(freqDomains[i]).range(RIGHT);
  const yPow = d3.scaleLinear().domain(powerDomains[i]).range([top + PANEL_H, top]);
  const R = makePanel(RIGHT, top);
  R.plot.append("path")
    .attr("d", d3.area().x(d => xf(d[0])).y0(d => yPow(d[1])).y1(d => yPow(d[2]))(pgBands[i]))
    .attr("fill", BLUE).attr("stroke", BLUE).attr("stroke-width", 2.5).attr("stroke-linejoin", "round");
  pgSpikes[i].forEach(([f, p]) => R.plot.append("line")
    .attr("x1", xf(f)).attr("x2", xf(f)).attr("y1", yPow(0)).attr("y2", yPow(p))
    .attr("stroke", BLUE).attr("stroke-width", 3.5).attr("stroke-linecap", "round"));
  // frequency of the folding period
  const pMax = d3.max(pgSpikes[i], d => d[1]);
  R.plot.append("line").attr("x1", xf(1 / periods[i])).attr("x2", xf(1 / periods[i]))
    .attr("y1", yPow(0)).attr("y2", yPow(pMax))
    .attr("stroke", ORANGE).attr("stroke-width", 3.75).attr("stroke-dasharray", "3.75 6.2");
  bottomAxis(R.g, xf, top, freqTicks[i], d3.format("d"));
  leftAxis(R.g, yPow, RIGHT[0], powerTicks[i], d3.format(powerFormats[i]));
  frame(R.g, RIGHT, top);
}

// axis labels under the last row
const labelY = 1699;
[["time (TESS BJD)", (LEFT[0] + LEFT[1]) / 2], ["phase", (MID[0] + MID[1]) / 2],
 ["frequency (c/d)", (RIGHT[0] + RIGHT[1]) / 2]].forEach(([txt, x]) =>
  svg.append("text").attr("x", x).attr("y", labelY).attr("text-anchor", "middle")
    .attr("font-size", 30).text(txt));
</script>
</body>
</html>
